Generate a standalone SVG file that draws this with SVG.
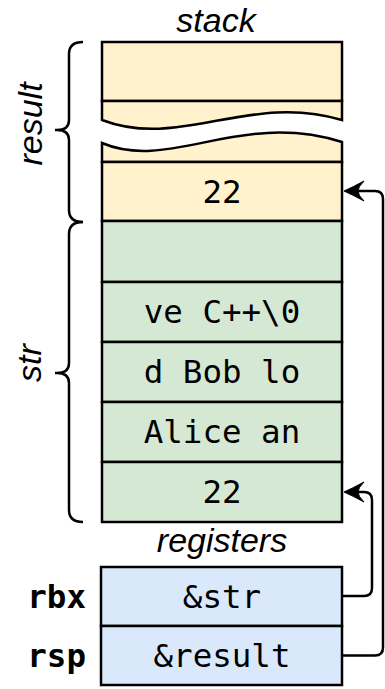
<svg xmlns="http://www.w3.org/2000/svg" width="385" height="689" viewBox="0 0 385 689">
<style>
.y{fill:#fff2cc;stroke:#000;stroke-width:2.5}
.g{fill:#d5e8d4;stroke:#000;stroke-width:2.5}
.b{fill:#dae8fc;stroke:#000;stroke-width:2.5}
.m{font-family:"DejaVu Sans Mono",monospace;font-size:32.5px;fill:#000;text-anchor:middle}
.r{font-family:"DejaVu Sans Mono",monospace;font-size:32.5px;font-weight:bold;fill:#000;text-anchor:end}
.i{font-family:"Liberation Sans",Arial,sans-serif;font-style:italic;font-size:34px;fill:#000;text-anchor:middle}
.br{fill:none;stroke:#000;stroke-width:2.5}
.c{fill:none;stroke:#000;stroke-width:2.5}
.ah{fill:#000;stroke:#000;stroke-width:1;stroke-linejoin:round}
</style>
<defs>
<path id="head" d="M0,0 Q9,-4 20,-10 Q14,-4 14,0 Q14,4 20,10 Q9,4 0,0 Z"/>
</defs>
<text class="i" x="216" y="32">stack</text>
<g id="result-brace">
<path class="br" d="M83,42 Q69,42 69,54 L69,120 Q69,130 57,130 L55,130 L57,130 Q69,130 69,140 L69,210 Q69,222 83,222"/>
<text class="i" transform="translate(42,124) rotate(-90)">result</text>
</g>
<g id="str-brace">
<path class="br" d="M83,222 Q69,222 69,234 L69,363 Q69,373 57,373 L55,373 L57,373 Q69,373 69,383 L69,510 Q69,522 83,522"/>
<text class="i" transform="translate(41,363) rotate(-90)">str</text>
</g>
<g id="result-top"><rect class="y" x="102" y="42" width="240" height="59"/></g>
<g id="result-upper"><path class="y" d="M102,101 L102,120 C180,150 250,92 342,120 L342,101 Z"/></g>
<g id="result-lower"><path class="y" d="M102,162 L102,143 C170,172 240,110 342,142 L342,162 Z"/></g>
<g id="result-22"><rect class="y" x="102" y="162" width="240" height="59"/><text class="m" x="222" y="203">22</text></g>
<g id="str-5"><rect class="g" x="102" y="221" width="240" height="61"/></g>
<g id="str-4"><rect class="g" x="102" y="282" width="240" height="60"/><text class="m" x="222" y="323">ve C++\0</text></g>
<g id="str-3"><rect class="g" x="102" y="342" width="240" height="60"/><text class="m" x="222" y="383">d Bob lo</text></g>
<g id="str-2"><rect class="g" x="102" y="402" width="240" height="60"/><text class="m" x="222" y="443">Alice an</text></g>
<g id="str-1"><rect class="g" x="102" y="462" width="240" height="60"/><text class="m" x="222" y="503">22</text></g>
<text class="i" x="222" y="552">registers</text>
<g id="rbx"><rect class="b" x="101" y="567" width="241" height="59"/><text class="m" x="222" y="608">&amp;str</text><text class="r" x="86" y="608">rbx</text></g>
<g id="rsp"><rect class="b" x="101" y="626" width="241" height="59"/><text class="m" x="222" y="667">&amp;result</text><text class="r" x="86" y="667">rsp</text></g>
<g id="connectors">
<path class="c" d="M342,596 L364,596 Q372,596 372,588 L372,500 Q372,492 364,492 L355,492"/>
<use href="#head" class="ah" x="344" y="492"/>
<path class="c" d="M342,655.5 L375,655.5 Q383,655.5 383,647.5 L383,199 Q383,191 375,191 L355,191"/>
<use href="#head" class="ah" x="344" y="191"/>
</g>
</svg>
